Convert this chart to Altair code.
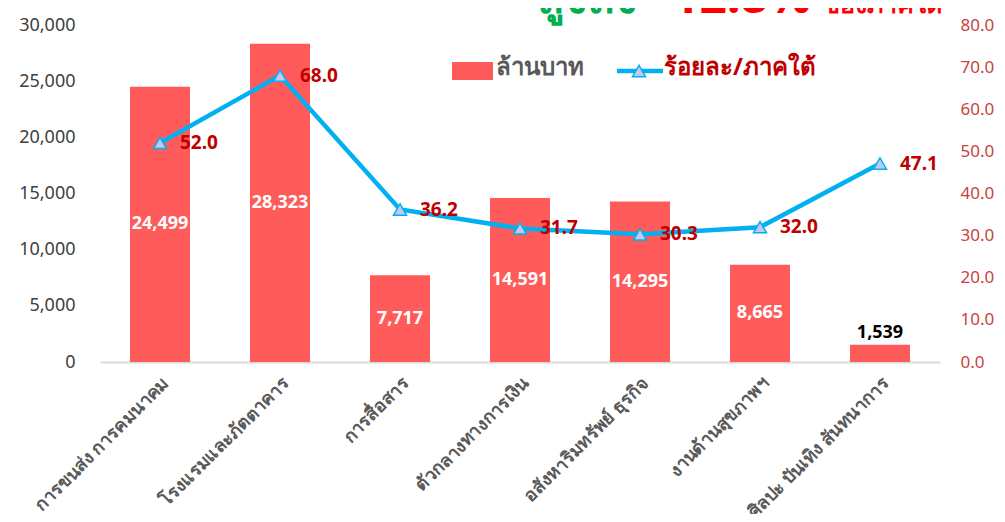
import altair as alt
import pandas as pd

categories = ["การขนส่ง การคมนาคม", "โรงแรมและภัตตาคาร", "การสื่อสาร",
              "ตัวกลางทางการเงิน", "อสังหาริมทรัพย์ ธุรกิจ", "งานด้านสุขภาพฯ",
              "ศิลปะ บันเทิง สันทนาการ"]
million_baht = [24499, 28323, 7717, 14591, 14295, 8665, 1539]
percent_south = [52.0, 68.0, 36.2, 31.7, 30.3, 32.0, 47.1]

legend_bar_label = "ล้านบาท"
legend_line_label = "ร้อยละ/ภาคใต้"
title_parts = ["สูงถึง", "12.8%", "ของภาคใต้"]

df = pd.DataFrame({"cat": categories, "value": million_baht, "pct": percent_south})

FONT = "Noto Sans"
BAR = "#FF5B5B"
LINE = "#00B0F0"
DARKRED = "#C00000"

x_axis = alt.Axis(title=None, labelAngle=-45, labelFontSize=18, labelFontWeight="bold",
                  labelColor="#595959", ticks=False, domain=True, domainColor="#D9D9D9",
                  domainWidth=2, labelPadding=12, labelFont=FONT,
                  labelLimit=400, grid=False)
x_enc = alt.X("cat:N", sort=categories,
              scale=alt.Scale(paddingInner=0.5, paddingOuter=0.25), axis=x_axis)

yl_scale = alt.Scale(domain=[0, 30000], nice=False)
yr_scale = alt.Scale(domain=[0, 80], nice=False)
yl_axis = alt.Axis(title=None, values=list(range(0, 30001, 5000)), format=",.0f",
                   labelFontSize=18, labelColor="#404040", grid=False, ticks=False,
                   domain=False, labelPadding=25, labelFont=FONT)
yr_axis = alt.Axis(title=None, orient="right", values=list(range(0, 81, 10)), format=".1f",
                   labelFontSize=17, labelColor="#C8423F", grid=False, ticks=False,
                   domain=False, labelPadding=20, labelFont=FONT)

base = alt.Chart(df)

bars = base.mark_bar(color=BAR).encode(
    x=x_enc,
    y=alt.Y("value:Q", scale=yl_scale, axis=yl_axis),
)

bar_labels_in = base.transform_filter("datum.value >= 5000").transform_calculate(
    mid="datum.value / 2").mark_text(color="white", fontSize=18, fontWeight="bold", font=FONT).encode(
    x=x_enc,
    y=alt.Y("mid:Q", scale=yl_scale, axis=yl_axis),
    text=alt.Text("value:Q", format=","),
)

bar_labels_out = base.transform_filter("datum.value < 5000").mark_text(
    color="black", fontSize=18, fontWeight="bold", dy=-12, font=FONT).encode(
    x=x_enc,
    y=alt.Y("value:Q", scale=yl_scale, axis=yl_axis),
    text=alt.Text("value:Q", format=","),
)

line = base.mark_line(color=LINE, strokeWidth=4.5).encode(
    x=x_enc,
    y=alt.Y("pct:Q", scale=yr_scale, axis=yr_axis),
)

points = base.mark_point(shape="triangle-up", filled=True, fill="#C5C8F2", stroke=LINE,
                         strokeWidth=1.5, size=170, opacity=1).encode(
    x=x_enc,
    y=alt.Y("pct:Q", scale=yr_scale, axis=yr_axis),
)

point_labels = base.mark_text(align="left", dx=20, fontSize=19, fontWeight="bold",
                              color=DARKRED, font=FONT).encode(
    x=x_enc,
    y=alt.Y("pct:Q", scale=yr_scale, axis=yr_axis),
    text=alt.Text("pct:Q", format=".1f"),
)

one = pd.DataFrame({"k": [0]})
leg_rect = alt.Chart(one).mark_rect(color=BAR).encode(
    x=alt.value(352), x2=alt.value(393), y=alt.value(37), y2=alt.value(55))
leg_text1 = alt.Chart(one).mark_text(align="left", baseline="middle", fontSize=24, fontWeight="bold",
                                     color="#595959", font=FONT, text=legend_bar_label).encode(
    x=alt.value(396), y=alt.value(43))
leg_line = alt.Chart(one).mark_rule(color=LINE, strokeWidth=4.5).encode(
    x=alt.value(517), x2=alt.value(563), y=alt.value(46))
leg_pt = alt.Chart(one).mark_point(shape="triangle-up", filled=True, fill="#C5C8F2", stroke=LINE,
                                   strokeWidth=1.5, size=170, opacity=1).encode(
    x=alt.value(539), y=alt.value(46))
leg_text2 = alt.Chart(one).mark_text(align="left", baseline="middle", fontSize=24, fontWeight="bold",
                                     color=DARKRED, font=FONT, text=legend_line_label).encode(
    x=alt.value(564), y=alt.value(43))

t1 = alt.Chart(one).mark_text(align="left", baseline="alphabetic", fontSize=46, fontWeight="bold",
                              color="#00B050", font=FONT, text=title_parts[0]).encode(
    x=alt.value(437), y=alt.value(-12))
t2 = alt.Chart(one).mark_text(align="left", baseline="alphabetic", fontSize=48, fontWeight="bold",
                              color="#FF0000", font=FONT, text=title_parts[1]).encode(
    x=alt.value(572), y=alt.value(-12))
t3 = alt.Chart(one).mark_text(align="left", baseline="alphabetic", fontSize=25, fontWeight="bold",
                              color="#FF0000", font=FONT, text=title_parts[2]).encode(
    x=alt.value(723), y=alt.value(-12))

left = alt.layer(bars, bar_labels_in, bar_labels_out)
right = alt.layer(line, points, point_labels, leg_rect, leg_text1, leg_line, leg_pt, leg_text2, t1, t2, t3)

chart = alt.layer(left, right).resolve_scale(y="independent").properties(
    width=840, height=337,
    autosize=alt.AutoSizeParams(type="none"),
    padding={"left": 92, "top": 17, "right": 57, "bottom": 152},
).configure(font=FONT).configure_view(strokeWidth=0, stroke="transparent")

chart.save("out.html", embed_options={"renderer": "svg", "actions": False})
